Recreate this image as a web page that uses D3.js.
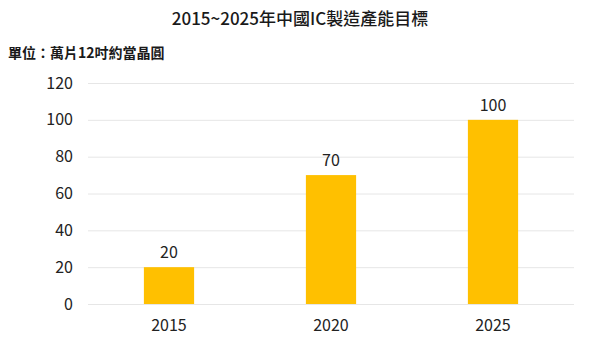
<!DOCTYPE html>
<html><head><meta charset="utf-8">
<script src="https://cdn.jsdelivr.net/npm/d3@7/dist/d3.min.js"></script>
<style>body{margin:0;background:#fff;}svg{display:block;font-family:"Noto Sans CJK TC","Noto Sans",sans-serif;}</style>
</head><body>
<script>
const categories = ["2015", "2020", "2025"];
const values = [20, 70, 100];
const yTicks = [0, 20, 40, 60, 80, 100, 120];
const title = "2015~2025年中國IC製造產能目標";
const unitLabel = "單位：萬片12吋約當晶圓";

const W = 600, H = 344;
const m = {left: 88, right: 26, top: 83, bottom: 40};
const svg = d3.select("body").append("svg").attr("width", W).attr("height", H);

const x = d3.scaleBand().domain(categories).range([m.left, W - m.right]).paddingInner(0.69).paddingOuter(0.345);
const y = d3.scaleLinear().domain([0, 120]).range([H - m.bottom, m.top]);

svg.append("text").attr("x", W/2).attr("y", 25).attr("text-anchor", "middle")
  .attr("font-size", 17).attr("font-weight", 500).attr("fill", "#1a1a1a").text(title);
svg.append("text").attr("x", 8).attr("y", 58)
  .attr("font-size", 14).attr("font-weight", 700).attr("fill", "#1a1a1a").text(unitLabel);

const yAxis = svg.append("g").attr("transform", `translate(${m.left},0)`)
  .call(d3.axisLeft(y).tickValues(yTicks).tickSize(-(W - m.left - m.right)).tickPadding(15));
yAxis.select(".domain").remove();
yAxis.selectAll(".tick line").attr("stroke", "#e6e6e6");
yAxis.selectAll(".tick text").attr("font-size", 16).attr("fill", "#222").attr("font-family", "'Noto Sans CJK TC','Noto Sans',sans-serif");

const xAxis = svg.append("g").attr("transform", `translate(0,${H - m.bottom})`)
  .call(d3.axisBottom(x).tickSize(0).tickPadding(16));
xAxis.select(".domain").remove();
xAxis.selectAll(".tick text").attr("font-size", 16).attr("fill", "#222").attr("font-family", "'Noto Sans CJK TC','Noto Sans',sans-serif");

const data = categories.map((c, i) => ({c, v: values[i]}));
svg.append("g").selectAll("rect").data(data).join("rect")
  .attr("x", d => x(d.c)).attr("width", x.bandwidth())
  .attr("y", d => y(d.v)).attr("height", d => y(0) - y(d.v))
  .attr("fill", "#FFC000");
svg.append("g").selectAll("text").data(data).join("text")
  .attr("x", d => x(d.c) + x.bandwidth()/2).attr("y", d => y(d.v) - 9)
  .attr("text-anchor", "middle").attr("font-size", 16).attr("fill", "#222").text(d => d.v);
</script>
</body></html>
